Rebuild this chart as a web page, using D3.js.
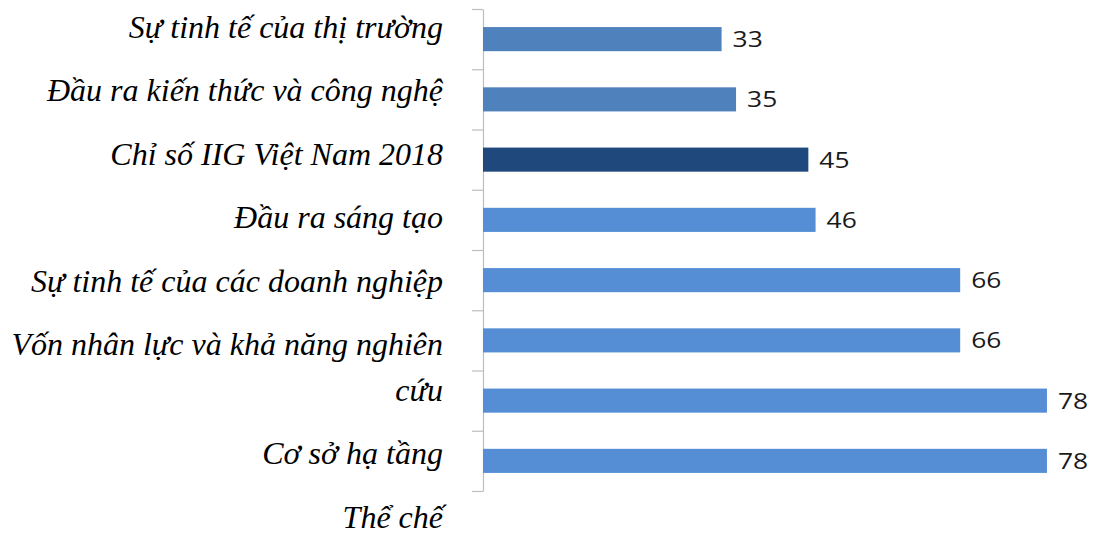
<!DOCTYPE html>
<html>
<head>
<meta charset="utf-8">
<script src="https://cdn.jsdelivr.net/npm/d3@7"></script>
<style>
  html, body { margin: 0; padding: 0; background: #ffffff; }
  svg { display: block; }
</style>
</head>
<body>
<svg id="chart" width="1094" height="536"></svg>
<script>
// Category names as printed in the left column (a "\n" marks a manual line break)
const labelTexts = [
  "Sự tinh tế của thị trường",
  "Đầu ra kiến thức và công nghệ",
  "Chỉ số IIG Việt Nam 2018",
  "Đầu ra sáng tạo",
  "Sự tinh tế của các doanh nghiệp",
  "Vốn nhân lực và khả năng nghiên\ncứu",
  "Cơ sở hạ tầng",
  "Thể chế"
];

// Bar rows, top to bottom
const barKeys = ["r1", "r2", "r3", "r4", "r5", "r6", "r7", "r8"];
const barValues = [33, 35, 45, 46, 66, 66, 78, 78];
// Which row is the overall index (drawn darker)
const highlightRow = 2;

const svg = d3.select("#chart");

const axisX = 483, plotTop = 9, plotBottom = 491;

const x = d3.scaleLinear().domain([0, 80]).range([axisX, axisX + 80 * 7.23]);
const y = d3.scaleBand()
  .domain(barKeys)
  .range([plotTop, plotBottom])
  .paddingInner(0.6)
  .paddingOuter(0.3);

// Tick positions at the boundaries between rows
const yEdge = d3.scaleLinear().domain([0, barKeys.length]).range([plotTop, plotBottom]);

const axisG = svg.append("g")
  .attr("transform", `translate(${axisX},0)`)
  .call(d3.axisLeft(yEdge)
    .tickValues(d3.range(barKeys.length + 1))
    .tickFormat("")
    .tickSize(11)
    .tickSizeOuter(0));
axisG.select(".domain").attr("stroke", "#bdbdbd").attr("stroke-width", 1.2);
axisG.selectAll(".tick line").attr("stroke", "#bdbdbd").attr("stroke-width", 1.2);

const colorFor = i => i === highlightRow ? "#1f497d" : (i < 2 ? "#4f81bd" : "#558ed5");

svg.append("g").selectAll("rect")
  .data(barValues)
  .join("rect")
  .attr("x", x(0))
  .attr("y", (d, i) => y(barKeys[i]))
  .attr("width", d => x(d) - x(0))
  .attr("height", y.bandwidth())
  .attr("fill", (d, i) => colorFor(i));

// Value labels, slightly widened digits
svg.append("g").selectAll("text")
  .data(barValues)
  .join("text")
  .attr("transform", (d, i) =>
    `translate(${x(d) + 11},${y(barKeys[i]) + y.bandwidth() / 2}) scale(1.2,1)`)
  .attr("dy", "0.36em")
  .attr("font-family", "'Open Sans', sans-serif")
  .attr("font-size", 22)
  .attr("fill", "#1a1a1a")
  .text(d => d);

// Left-hand category column
const labelRight = 443;
const firstBaseline = 38, labelGap = 63.4, lineHeight = 46;
let extraLines = 0;
const labelG = svg.append("g")
  .attr("font-family", "'Liberation Serif', 'Times New Roman', serif")
  .attr("font-style", "italic")
  .attr("font-size", 32)
  .attr("fill", "#000")
  .attr("text-anchor", "end");

labelTexts.forEach((t, i) => {
  const lines = t.split("\n");
  const base = firstBaseline + i * labelGap + extraLines * lineHeight;
  const txt = labelG.append("text").attr("x", labelRight).attr("y", base);
  lines.forEach((ln, j) => {
    txt.append("tspan")
      .attr("x", labelRight)
      .attr("y", base + j * lineHeight)
      .text(ln);
  });
  extraLines += lines.length - 1;
});
</script>
</body>
</html>
